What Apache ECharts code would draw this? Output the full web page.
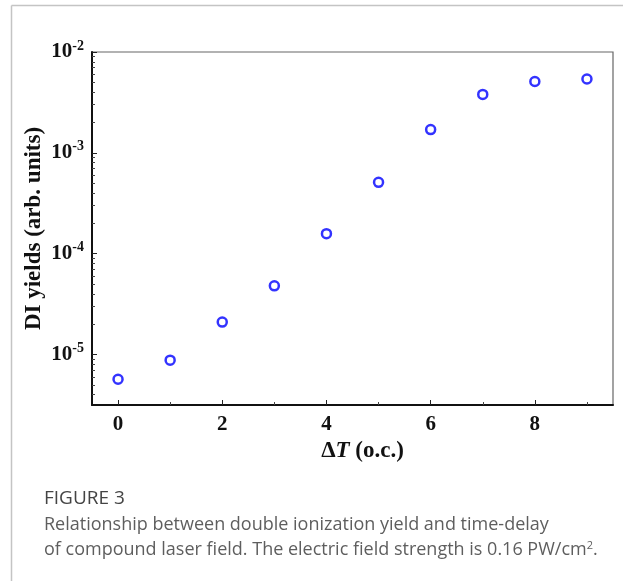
<!DOCTYPE html>
<html><head><meta charset="utf-8">
<script src="https://cdn.jsdelivr.net/npm/echarts@6/dist/echarts.min.js"></script>
<style>html,body{margin:0;padding:0;background:#fff}#c{width:623px;height:581px}</style>
</head><body><div id="c"></div>
<script>
// ---- data ----
const delays = [0, 1, 2, 3, 4, 5, 6, 7, 8, 9];
const yields = [5.7e-6, 8.8e-6, 2.1e-5, 4.8e-5, 1.58e-4, 5.1e-4, 1.7e-3, 3.8e-3, 5.1e-3, 5.4e-3];
const xTickLabels = [0, 2, 4, 6, 8];
const xMinorTicks = [1, 3, 5, 7, 9];
const yTickLabels = [1e-5, 1e-4, 1e-3, 1e-2];
const yMultipliers = [2, 3, 4, 5, 6, 7, 8, 9];
const yDecades = [1e-6, 1e-5, 1e-4, 1e-3];
const yMin = Math.pow(10, -5.5), yMax = 1e-2;
const yMinorTicks = [];
yDecades.forEach(d => yMultipliers.forEach(m => { const v = m * d; if (v > yMin && v < yMax) yMinorTicks.push(v); }));

const serif = '"Liberation Serif", "Times New Roman", serif';
const sans = '"Open Sans", "Noto Sans", sans-serif';

const chart = echarts.init(document.getElementById('c'), null, { renderer: 'canvas' });
chart.setOption({
  animation: false,
  backgroundColor: '#fff',
  grid: { left: 92, right: 10, top: 52, bottom: 176, show: true, borderColor: '#666', borderWidth: 1.2, backgroundColor: 'transparent', outerBoundsMode: 'none' },
  xAxis: [{
    type: 'value', min: -0.5, max: 9.5, position: 'bottom',
    axisLine: { show: true, onZero: false, lineStyle: { color: '#111', width: 2 } },
    axisTick: { show: true, inside: true, length: 5, customValues: xTickLabels, lineStyle: { color: '#222', width: 1 } },
    axisLabel: { customValues: xTickLabels, margin: 9, fontFamily: serif, fontWeight: 'bold', fontSize: 21, color: '#111' },
    splitLine: { show: false },
    name: '{d|Δ}{t|T}{d| (o.c.)}', nameLocation: 'middle', nameGap: 35, nameMoveOverlap: false,
    nameTextStyle: { padding: [0, 0, 0, 20], rich: {
      d: { fontFamily: serif, fontWeight: 'bold', fontSize: 23, color: '#111' },
      t: { fontFamily: serif, fontWeight: 'bold', fontStyle: 'italic', fontSize: 23, color: '#111' } } }
  }, {
    type: 'value', min: -0.5, max: 9.5, position: 'bottom',
    axisLine: { show: false, onZero: false },
    axisTick: { show: true, inside: true, length: 3, customValues: xMinorTicks, lineStyle: { color: '#444', width: 1 } },
    axisLabel: { show: false }, splitLine: { show: false }
  }],
  yAxis: [{
    type: 'log', logBase: 10, min: yMin, max: yMax, position: 'left',
    axisLine: { show: true, onZero: false, lineStyle: { color: '#111', width: 2 } },
    axisTick: { show: true, inside: true, length: 5, customValues: yTickLabels, lineStyle: { color: '#222', width: 1 } },
    axisLabel: {
      customValues: yTickLabels, margin: 8,
      formatter: v => '{b|10}{s|' + Math.round(Math.log10(v)) + '}',
      rich: {
        b: { fontFamily: serif, fontWeight: 'bold', fontSize: 21, color: '#111' },
        s: { fontFamily: serif, fontWeight: 'bold', fontSize: 14, color: '#111', padding: [0, 0, 12, 0] }
      }
    },
    splitLine: { show: false },
    name: 'DI yields (arb. units)', nameLocation: 'middle', nameGap: 46, nameRotate: 90, nameMoveOverlap: false,
    nameTextStyle: { fontFamily: serif, fontWeight: 'bold', fontSize: 23, color: '#111' }
  }, {
    type: 'log', logBase: 10, min: yMin, max: yMax, position: 'left',
    axisLine: { show: false, onZero: false },
    axisTick: { show: true, inside: true, length: 3, customValues: yMinorTicks, lineStyle: { color: '#444', width: 1 } },
    axisLabel: { show: false }, splitLine: { show: false }
  }],
  series: [{
    type: 'scatter', xAxisIndex: 0, yAxisIndex: 0,
    data: delays.map((x, i) => [x, yields[i]]),
    symbol: 'circle', symbolSize: 9,
    itemStyle: { color: '#fff', borderColor: '#0000ff', borderWidth: 2.5 }
  }],
  graphic: [
    { type: 'line', shape: { x1: 11.5, y1: 5.5, x2: 623, y2: 5.5 }, style: { stroke: '#c4c4c4', lineWidth: 1.5 } },
    { type: 'line', shape: { x1: 11.5, y1: 5.5, x2: 11.5, y2: 581 }, style: { stroke: '#c4c4c4', lineWidth: 1.5 } },
    { type: 'text', left: 44, top: 489, style: { text: 'FIGURE 3', font: '500 19px ' + sans, fill: '#444' } },
    { type: 'text', left: 44, top: 516, style: { text: 'Relationship between double ionization yield and time-delay', font: '400 18px ' + sans, fill: '#5e5e5e' } },
    { type: 'text', left: 44, top: 540, style: {
      text: '{n|of compound laser field. The electric field strength is 0.16 PW/cm}{s|2}{n|.}',
      rich: { n: { font: '400 18px ' + sans, fill: '#5e5e5e' }, s: { font: '400 11px ' + sans, fill: '#5e5e5e', padding: [0, 0, 9, 0] } } } }
  ]
});
</script></body></html>
